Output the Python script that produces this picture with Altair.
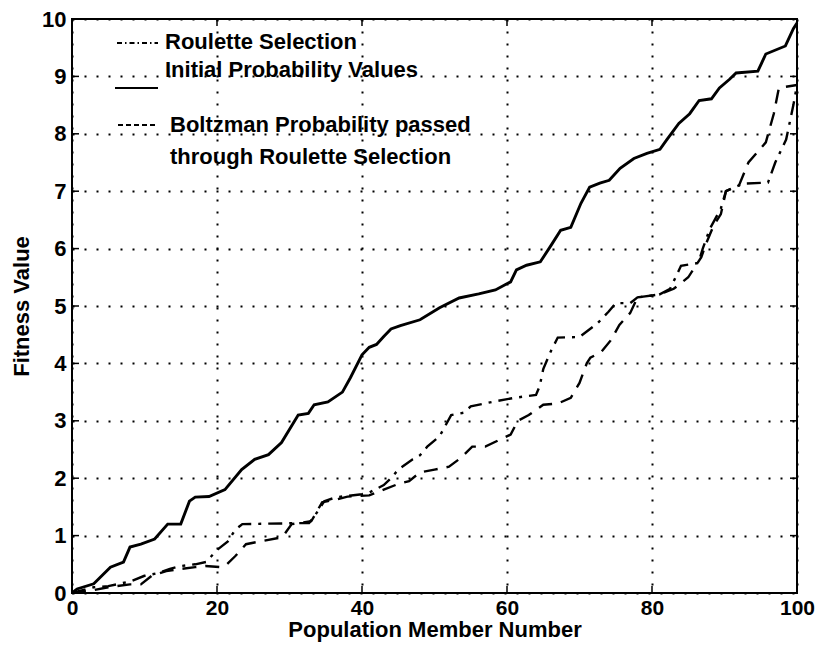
import altair as alt
import pandas as pd

# ---------------- data ----------------
initial_x = [0, 0.7, 3, 5.3, 7.1, 8, 9.5, 11.4, 13.2, 15, 16.2, 17, 18.9, 21.1, 23.4, 25.2,
             27.1, 28.9, 31.2, 32.6, 33.4, 35.3, 37.3, 38.4, 40, 41, 42, 43, 44, 45.3, 48,
             50.7, 53.4, 56.1, 58.4, 60.5, 61.3, 62.7, 64.6, 66.1, 67.4, 68.8, 70.2, 71.4,
             72.8, 74.1, 75.6, 77.5, 79.3, 81.1, 82, 83.7, 85.2, 86.5, 88.2, 89.3, 90.7,
             91.6, 94.6, 95.7, 98.4, 99.5, 100]
initial_y = [0, 0.07, 0.16, 0.45, 0.54, 0.8, 0.85, 0.94, 1.2, 1.2, 1.6, 1.67, 1.68, 1.8, 2.15, 2.33,
             2.41, 2.62, 3.1, 3.13, 3.28, 3.33, 3.5, 3.75, 4.15, 4.28, 4.33, 4.47, 4.6, 4.66, 4.76,
             4.97, 5.14, 5.21, 5.28, 5.42, 5.63, 5.71, 5.77, 6.06, 6.32, 6.37, 6.79, 7.07,
             7.14, 7.19, 7.4, 7.57, 7.66, 7.73, 7.89, 8.18, 8.35, 8.58, 8.61, 8.8, 8.95,
             9.06, 9.09, 9.39, 9.53, 9.83, 9.93]

roulette_x = [0, 3, 5, 8, 10, 12, 13.5, 15, 17, 18.5, 20, 21.5, 22.5, 23.5, 32.7, 33.5, 34.8,
              36.5, 40, 41, 43, 44, 45, 47, 48, 49, 50.7, 52.3, 54, 55, 58, 61, 64, 64.5, 65,
              65.5, 66, 67, 70, 72.5, 74, 75, 77, 78, 81, 82.5, 84, 86.4, 87, 88, 89.5, 90.2,
              92.5, 96, 97, 98.5, 99.5, 100]
roulette_y = [0, 0.1, 0.12, 0.2, 0.3, 0.35, 0.42, 0.47, 0.5, 0.54, 0.75, 0.9, 1.1, 1.2, 1.22, 1.35, 1.6,
              1.67, 1.72, 1.75, 1.88, 2.0, 2.15, 2.33, 2.4, 2.55, 2.73, 3.1, 3.14, 3.25, 3.33, 3.4, 3.45, 3.6, 3.9,
              4.05, 4.2, 4.45, 4.46, 4.7, 4.9, 5.05, 5.05, 5.15, 5.2, 5.3, 5.7, 5.75, 6.0, 6.35, 6.7, 7.0,
              7.13, 7.15, 7.5, 7.9, 8.5, 8.85]

boltzman_x = [0, 3, 5, 8, 9.5, 11, 13, 15, 17, 18.4, 20.5, 21.2, 22.5, 24, 26, 29, 30.3, 33, 34.5,
              36.5, 38, 41, 43, 45, 46.5, 48, 50, 52, 53.7, 55.2, 57, 59, 60.5, 61.5, 63, 65, 67,
              68.8, 70, 71, 71.5, 73, 74.3, 75.5, 77, 78, 81, 83, 85, 86.8, 87.5, 88.5, 89.5,
              90.2, 92, 93.3, 95.7, 96.8, 97.5, 100]
boltzman_y = [0, 0.05, 0.1, 0.15, 0.15, 0.3, 0.38, 0.42, 0.45, 0.47, 0.45, 0.48, 0.64, 0.85, 0.9, 0.97, 1.2, 1.25, 1.58,
              1.63, 1.68, 1.7, 1.8, 1.9, 1.95, 2.1, 2.15, 2.2, 2.36, 2.55, 2.55, 2.67, 2.76, 3.0, 3.1, 3.28, 3.3,
              3.4, 3.66, 4.0, 4.1, 4.2, 4.4, 4.67, 4.88, 5.15, 5.2, 5.3, 5.5, 5.85, 6.1, 6.4, 6.6,
              7.0, 7.1, 7.5, 7.85, 8.35, 8.8, 8.85]

x_ticks = [0, 20, 40, 60, 80, 100]
y_ticks = [0, 1, 2, 3, 4, 5, 6, 7, 8, 9, 10]

legend_rows = ["Roulette Selection", "Initial Probability Values",
               "Boltzman Probability passed", "through Roulette Selection"]

# ---------------- layout / style ----------------
W, H = 725, 574
FONT = "Liberation Sans"
FS = 22
DASH = [14, 9]
DASHDOT = [14, 7, 3, 7]
LW = 2.4

xscale = alt.Scale(domain=[0, 100], nice=False, zero=False)
yscale = alt.Scale(domain=[0, 10], nice=False, zero=False)

common = dict(grid=True, gridColor="black", gridDash=[2, 10], gridWidth=2, gridOpacity=1,
              domain=False, ticks=False, labelFlush=False,
              labelFont=FONT, labelFontWeight="bold", labelColor="black",
              titleFont=FONT, titleFontSize=FS, titleFontWeight="bold", titleColor="black")
x_axis = alt.Axis(values=x_ticks, title="Population Member Number", labelPadding=4,
                  labelFontSize=21, titlePadding=1, **common)
y_axis = alt.Axis(values=y_ticks, title="Fitness Value", labelPadding=6,
                  labelFontSize=FS, titlePadding=8, **common)

X = alt.X("x:Q", scale=xscale, axis=x_axis)
Y = alt.Y("y:Q", scale=yscale, axis=y_axis)


def series(xs, ys):
    return pd.DataFrame({"x": xs, "y": ys, "o": list(range(len(xs)))})


initial = alt.Chart(series(initial_x, initial_y)).mark_line(
    color="black", strokeWidth=LW + 0.5
).encode(x=X, y=Y, order="o:Q")

roulette = alt.Chart(series(roulette_x, roulette_y)).mark_line(
    color="black", strokeWidth=LW, strokeDash=DASHDOT
).encode(x=X, y=Y, order="o:Q")

boltzman = alt.Chart(series(boltzman_x, boltzman_y)).mark_line(
    color="black", strokeWidth=LW, strokeDash=DASH
).encode(x=X, y=Y, order="o:Q")

# inward tick marks on all four sides (MATLAB box style)
TL = 7
yt = pd.DataFrame({"y": y_ticks})
xt = pd.DataFrame({"x": x_ticks})
tick_layers = [
    alt.Chart(yt).mark_rule(color="black", strokeWidth=1.5).encode(
        y=Y, x=alt.value(0), x2=alt.value(TL)),
    alt.Chart(yt).mark_rule(color="black", strokeWidth=1.5).encode(
        y=Y, x=alt.value(W - TL), x2=alt.value(W)),
    alt.Chart(xt).mark_rule(color="black", strokeWidth=1.5).encode(
        x=X, y=alt.value(H - TL), y2=alt.value(H)),
    alt.Chart(xt).mark_rule(color="black", strokeWidth=1.5).encode(
        x=X, y=alt.value(0), y2=alt.value(TL)),
]

# legend drawn inside the plot, top-left, no box
one = pd.DataFrame({"k": [0]})


def leg_line(x1, x2, y, dash=None, width=2):
    kw = dict(color="black", strokeWidth=width)
    if dash is not None:
        kw["strokeDash"] = dash
    return alt.Chart(one).mark_rule(**kw).encode(
        x=alt.value(x1), x2=alt.value(x2), y=alt.value(y))


def leg_text(label, x, y):
    return alt.Chart(pd.DataFrame({"t": [label]})).mark_text(
        align="left", baseline="middle", font=FONT, fontSize=FS, fontWeight="bold",
        color="black"
    ).encode(text="t:N", x=alt.value(x), y=alt.value(y))


legend_layers = [
    leg_line(45, 86, 24, [5, 3, 1.5, 3], 1.8),
    leg_text(legend_rows[0], 93, 23),
    leg_line(43, 86, 69, None, 2.2),
    leg_text(legend_rows[1], 93, 51),
    leg_line(46, 86, 106, [5, 3], 1.8),
    leg_text(legend_rows[2], 98, 106),
    leg_text(legend_rows[3], 98, 138),
]

chart = alt.layer(
    initial, roulette, boltzman, *tick_layers, *legend_layers
).properties(
    width=W, height=H,
    autosize=alt.AutoSizeParams(type="none"),
    padding={"left": 64, "top": 11, "right": 19, "bottom": 49},
    background="white",
).configure_view(
    stroke="black", strokeWidth=2
)

chart.save("out.html", embed_options={"renderer": "svg", "actions": False})
